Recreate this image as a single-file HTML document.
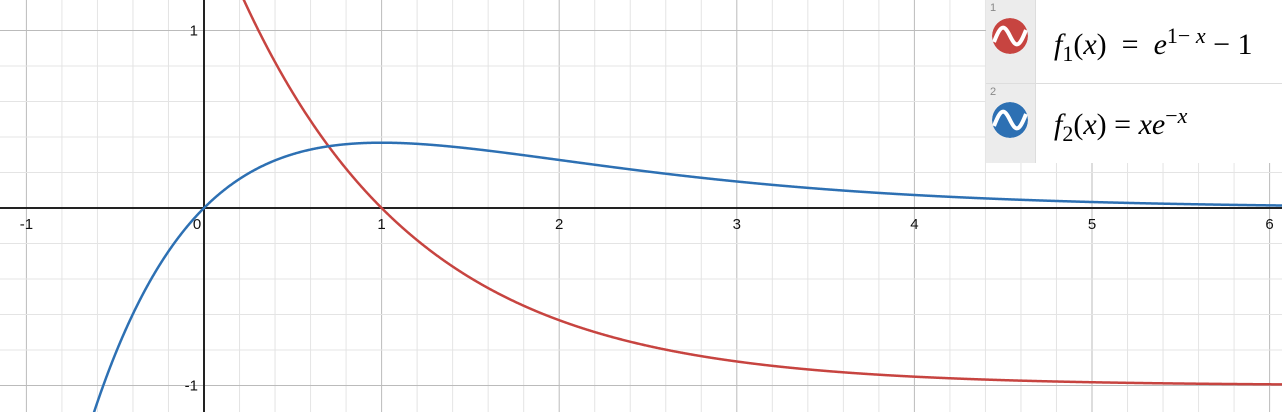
<!DOCTYPE html>
<html><head><meta charset="utf-8"><style>
html,body{margin:0;padding:0;width:1282px;height:412px;overflow:hidden}
body{background:#fff;position:relative;font-family:"Liberation Sans",sans-serif}
svg{position:absolute;left:0;top:0;display:block;overflow:hidden}
#legend{position:absolute;left:986px;top:0;width:296px;height:163px;background:#fff;overflow:hidden}
.row{position:absolute;left:0;width:296px;border-bottom:1px solid #ddd;overflow:hidden}
.gut{position:absolute;left:0;top:0;width:49px;height:100%;background:#ececec;border-right:1px solid #ddd}
.num{position:absolute;left:4px;top:2px;font-size:11px;color:#888}
.ic{position:absolute;left:6px;width:36px;height:36px;border-radius:50%}
.m{position:absolute;left:68px;font-family:"Liberation Serif",serif;font-size:30px;line-height:34px;color:#000;white-space:nowrap}
.m i{font-style:italic}
.m sub,.m sup{line-height:0;font-size:22px}
</style></head><body>
<svg id="chart" width="1282" height="412"></svg>
<div id="legend">
 <div class="row" style="top:0;height:83px">
  <div class="gut"><span class="num">1</span>
   <svg class="ic" style="top:18px" width="36" height="36" viewBox="0 0 36 36"><circle cx="18" cy="18" r="18" fill="#c74440"/><path d="M2 24 C9 6 12 6 18 18 C24 30 27 30 34 12" stroke="#fff" stroke-width="4" fill="none"/></svg></div>
  <div class="m" style="top:28px"><i>f</i><sub>1</sub>(<i>x</i>)&nbsp; = &nbsp;<i>e</i><sup>1− <i>x</i></sup> − 1</div>
 </div>
 <div class="row" style="top:84px;height:79px;border-bottom:none">
  <div class="gut"><span class="num">2</span>
   <svg class="ic" style="top:18px" width="36" height="36" viewBox="0 0 36 36"><circle cx="18" cy="18" r="18" fill="#2d70b3"/><path d="M2 24 C9 6 12 6 18 18 C24 30 27 30 34 12" stroke="#fff" stroke-width="4" fill="none"/></svg></div>
  <div class="m" style="top:24px"><i>f</i><sub>2</sub>(<i>x</i>) = <i>xe</i><sup>−<i>x</i></sup></div>
 </div>
</div>
<script>
const xTicks=[-1,0,1,2,3,4,5,6];
const yTicks=[-1,1];
const xDomain=[-1.15,6.07];
const yDomain=[-1.14,1.17];
const W=1282,H=412;
const X0=204,XS=177.6,Y0=208,YS=177.5;
const sx=x=>X0+x*XS, sy=y=>Y0-y*YS;
const svg=document.getElementById('chart');
const NS='http://www.w3.org/2000/svg';
function mk(t,a){const e=document.createElementNS(NS,t);for(const k in a)e.setAttribute(k,a[k]);svg.appendChild(e);return e;}
for(let i=Math.ceil(xDomain[0]*5);i<=xDomain[1]*5;i++){const major=i%5===0;const l=mk('line',{x1:sx(i/5),x2:sx(i/5),y1:0,y2:H,stroke:major?'#bbb':'#e4e4e4','stroke-width':1});

}
for(let i=Math.ceil(yDomain[0]*5);i<=yDomain[1]*5;i++){const major=i%5===0;const l=mk('line',{x1:0,x2:W,y1:sy(i/5),y2:sy(i/5),stroke:major?'#bbb':'#e4e4e4','stroke-width':1});

}
const xa=mk('line',{x1:0,x2:W,y1:sy(0),y2:sy(0),stroke:'#222','stroke-width':2});


const ya=mk('line',{x1:sx(0),x2:sx(0),y1:0,y2:H,stroke:'#222','stroke-width':2});


xTicks.forEach(v=>{const t=mk('text',{x:v===0?sx(v)-7:sx(v),y:sy(0)+21,'text-anchor':'middle','font-size':15,fill:'#111','font-family':'Liberation Sans, sans-serif'});t.textContent=v<0?'-'+(-v):String(v);

});
yTicks.forEach(v=>{const t=mk('text',{x:sx(0)-6,y:sy(v)+5,'text-anchor':'end','font-size':15,fill:'#111','font-family':'Liberation Sans, sans-serif'});t.textContent=v<0?'-'+(-v):String(v);

});
function curve(f,col,name){let d='';let first=true;
 for(let px=0;px<=W;px+=0.5){const x=(px-X0)/XS;const y=f(x);const py=sy(y);
  if(py<-3||py>H+3){first=true;continue;}
  d+=(first?'M':'L')+px+' '+py.toFixed(2);first=false;}
 const p=mk('path',{d:d,stroke:col,'stroke-width':2.5,fill:'none'});
 
 }
curve(x=>Math.exp(1-x)-1,'#c74440','f1-curve');
curve(x=>x*Math.exp(-x),'#2d70b3','f2-curve');
</script>
</body></html>
